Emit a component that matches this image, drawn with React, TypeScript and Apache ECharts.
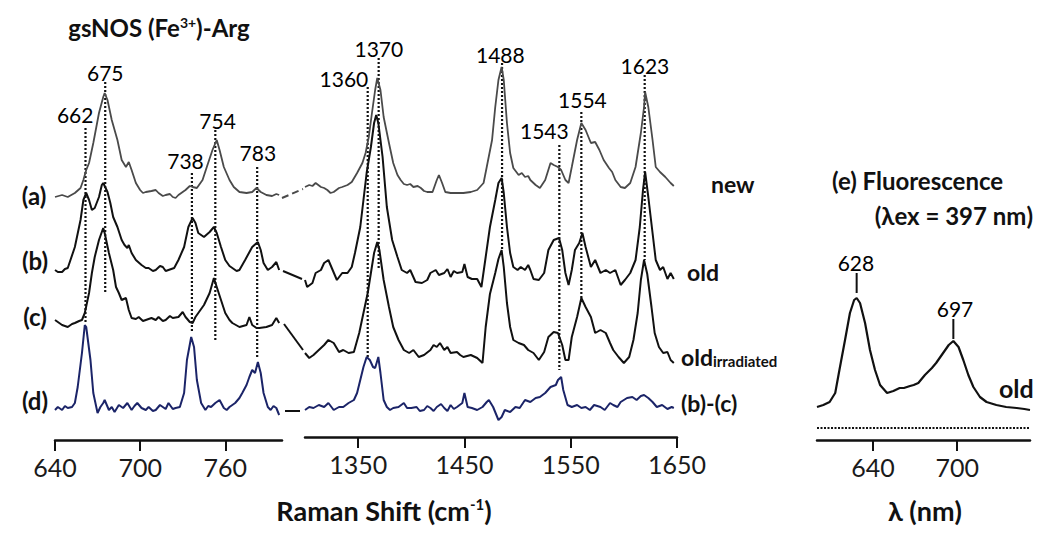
import React, { useEffect, useRef } from "react";
import * as echarts from "echarts";

// ---------- Raman, low-frequency window (cm-1 vs offset intensity) ----------
const lowNew: [number, number][] = [[640,243],[645,245],[649,243],[654,247],[658,252],[660,260],[662,270],[664,277],[667,297],[671,327],[674,343],[675,347],[677,340],[680,320],[684,300],[687,280],[690,273],[692,278],[694,270],[697,257],[700,250],[702,247],[704,248],[708,249],[711,250],[713,247],[716,244],[718,245],[721,246],[723,243],[725,242],[727,245],[732,250],[735,254],[737,253],[740,252],[744,260],[747,273],[751,290],[754,300],[756,290],[759,273],[763,260],[766,253],[770,248],[775,247],[779,248],[782,252],[785,248],[789,245],[793,244],[796,246],[798,245]];
const lowOld: [number, number][] = [[640,170],[642,168],[645,168],[647,171],[649,172],[654,193],[658,220],[660,240],[662,247],[664,240],[666,230],[668,232],[671,243],[673,255],[674,257],[677,248],[679,237],[681,223],[684,213],[687,200],[689,195],[691,192],[692,195],[694,187],[697,180],[701,175],[704,172],[706,172],[709,169],[711,170],[714,174],[716,173],[718,169],[720,170],[724,172],[727,180],[731,193],[734,213],[737,222],[739,217],[741,207],[745,203],[749,208],[752,213],[754,207],[757,193],[760,180],[763,174],[765,172],[768,169],[770,170],[774,180],[779,193],[783,198],[785,190],[787,177],[790,170],[793,173],[796,178],[798,170]];
const lowIrr: [number, number][] = [[640,120],[643,117],[645,115],[647,114],[649,113],[652,116],[654,117],[657,119],[659,120],[661,127],[664,147],[666,167],[668,183],[671,200],[674,212],[675,207],[678,187],[681,170],[683,153],[685,147],[687,140],[690,142],[692,130],[694,122],[697,121],[699,123],[702,119],[704,120],[708,122],[711,120],[713,123],[716,119],[718,120],[721,124],[723,122],[727,123],[730,128],[732,123],[735,118],[737,117],[739,123],[741,127],[745,135],[749,147],[752,162],[754,153],[757,140],[760,127],[763,120],[765,117],[770,113],[775,115],[777,123],[779,115],[782,112],[784,112],[789,113],[793,115],[796,122],[798,117]];
const lowDiff: [number, number][] = [[640,30],[642,33],[645,30],[647,34],[649,32],[652,33],[654,37],[656,53],[659,87],[661,115],[662,113],[665,80],[667,47],[670,27],[672,33],[674,37],[675,40],[678,30],[680,33],[682,28],[685,35],[688,32],[691,37],[694,30],[696,34],[698,37],[701,32],[704,30],[706,33],[709,29],[711,30],[714,35],[716,33],[718,31],[720,37],[723,31],[725,32],[728,33],[731,47],[733,80],[736,103],[738,93],[740,60],[743,37],[746,30],[748,34],[750,33],[753,37],[756,40],[759,32],[761,30],[763,33],[765,35],[767,37],[770,42],[772,47],[775,55],[777,63],[779,70],[781,67],[783,78],[785,67],[787,47],[790,33],[792,30],[794,34],[796,32],[798,25]];

// ---------- Raman, high-frequency window ----------
const highNew: [number, number][] = [[1300,250],[1304,252],[1307,251],[1310,254],[1315,250],[1318,249],[1321,247],[1324,244],[1327,245],[1332,249],[1335,250],[1340,252],[1344,255],[1349,264],[1354,274],[1357,284],[1360,300],[1363,324],[1366,347],[1368,359],[1371,347],[1374,320],[1379,294],[1383,274],[1387,262],[1390,257],[1393,253],[1396,252],[1399,253],[1402,250],[1406,251],[1409,249],[1412,246],[1415,245],[1420,245],[1424,257],[1426,262],[1429,254],[1432,245],[1437,244],[1443,244],[1449,244],[1456,245],[1462,247],[1468,254],[1471,270],[1476,297],[1479,330],[1482,357],[1485,370],[1487,357],[1490,314],[1493,284],[1496,269],[1501,262],[1504,264],[1507,260],[1510,261],[1512,257],[1517,252],[1521,249],[1526,257],[1531,274],[1534,272],[1538,270],[1541,267],[1545,257],[1548,254],[1551,270],[1556,297],[1560,314],[1564,307],[1569,294],[1573,295],[1577,287],[1581,277],[1586,269],[1589,265],[1592,257],[1597,250],[1601,249],[1606,254],[1611,270],[1616,304],[1619,330],[1620,345],[1623,330],[1627,297],[1630,270],[1634,265],[1639,260],[1644,254],[1647,251]];
const highOld: [number, number][] = [[1300,157],[1302,150],[1307,154],[1310,164],[1315,167],[1318,174],[1322,177],[1326,167],[1330,157],[1335,164],[1340,164],[1344,170],[1347,184],[1352,210],[1355,237],[1358,264],[1362,290],[1365,314],[1367,322],[1369,314],[1373,280],[1377,230],[1382,197],[1387,180],[1391,167],[1396,164],[1399,167],[1404,155],[1410,154],[1415,157],[1418,164],[1423,167],[1426,162],[1431,164],[1434,168],[1437,160],[1440,166],[1443,164],[1448,165],[1450,173],[1453,160],[1457,158],[1462,158],[1466,150],[1470,180],[1474,210],[1479,237],[1482,254],[1485,259],[1487,244],[1490,210],[1493,184],[1496,170],[1500,167],[1503,170],[1507,167],[1510,172],[1512,167],[1515,158],[1520,157],[1525,164],[1529,187],[1534,197],[1539,199],[1542,187],[1545,164],[1548,152],[1551,167],[1554,187],[1558,194],[1561,204],[1564,190],[1569,170],[1573,177],[1578,164],[1583,167],[1587,164],[1592,167],[1597,152],[1601,157],[1606,164],[1611,177],[1615,210],[1618,247],[1620,265],[1623,240],[1627,204],[1630,177],[1634,167],[1637,170],[1641,158],[1644,164],[1647,158]];
const highIrr: [number, number][] = [[1300,84],[1304,79],[1308,82],[1313,87],[1318,92],[1322,97],[1327,94],[1332,85],[1336,87],[1341,84],[1346,85],[1351,104],[1355,124],[1359,144],[1362,164],[1365,184],[1368,195],[1370,187],[1374,157],[1379,130],[1383,110],[1388,97],[1393,87],[1398,84],[1402,87],[1407,80],[1412,82],[1418,87],[1421,92],[1424,90],[1427,94],[1431,87],[1434,90],[1437,84],[1443,85],[1446,82],[1449,80],[1456,82],[1462,79],[1467,74],[1470,110],[1474,143],[1479,164],[1482,178],[1485,187],[1487,170],[1490,134],[1493,110],[1496,97],[1501,94],[1506,92],[1510,87],[1515,84],[1520,77],[1525,85],[1529,100],[1534,105],[1538,104],[1542,92],[1545,77],[1548,77],[1551,100],[1556,120],[1560,139],[1564,130],[1569,120],[1573,104],[1578,107],[1583,104],[1587,94],[1590,87],[1595,80],[1600,74],[1605,80],[1609,97],[1613,124],[1616,157],[1619,177],[1622,163],[1626,130],[1629,104],[1633,90],[1637,84],[1641,85],[1644,77],[1647,74]];
const highDiff: [number, number][] = [[1300,27],[1304,30],[1308,29],[1313,32],[1318,30],[1322,34],[1327,27],[1332,30],[1336,30],[1341,34],[1346,37],[1349,44],[1352,57],[1355,70],[1358,80],[1361,77],[1364,70],[1366,69],[1369,80],[1371,64],[1374,37],[1377,30],[1380,27],[1383,29],[1388,30],[1393,34],[1396,29],[1400,29],[1405,30],[1408,26],[1412,27],[1415,31],[1418,29],[1421,26],[1424,30],[1428,33],[1431,29],[1434,26],[1437,32],[1440,28],[1443,30],[1448,34],[1450,44],[1453,30],[1457,29],[1462,27],[1467,30],[1471,35],[1473,37],[1477,30],[1482,17],[1485,20],[1488,27],[1493,25],[1498,30],[1502,29],[1507,37],[1512,35],[1517,39],[1521,40],[1526,44],[1531,50],[1536,52],[1538,57],[1541,60],[1543,47],[1547,32],[1551,30],[1556,32],[1560,29],[1564,30],[1568,27],[1572,32],[1578,30],[1582,27],[1587,34],[1590,32],[1594,30],[1597,35],[1603,39],[1608,40],[1612,37],[1616,41],[1619,42],[1623,39],[1627,35],[1631,30],[1636,32],[1641,28],[1645,30],[1647,29]];

// ---------- Fluorescence (nm vs intensity) ----------
const fluorOld: [number, number][] = [[600,33],[604.5,35],[609,38],[613,47],[616,70],[620,100],[623.5,127],[626.5,140],[628.3,142],[630.7,137],[634.3,117],[637.8,90],[641.4,70],[645,55],[650,47],[654.5,49],[659,52],[662,52],[666.4,54],[669,55],[672.3,57],[677,65],[682,72],[685,77],[688,83],[691,89],[694,95],[697.3,99],[701,93],[704.4,80],[708,65],[711.6,53],[716.3,43],[721,38],[728,35],[735,33],[742.5,32],[748,31],[752,30]];
const fluorBlank: [number, number][] = [[600,12],[752,12]];

// ---------- peak annotations: [label, position, top, bottom] ----------
const lowPeaks: [string, number, number, number][] = [["662",661.5,312,117],["675",675.4,358,147],["738",736.5,267,107],["754",753,310,100],["783",782.5,273,83]];
const highPeaks: [string, number, number, number][] = [["1360",1359,350,80],["1370",1369.3,379,167],["1488",1485.4,374,187],["1543",1539.3,292,67],["1554",1560,325,139],["1623",1619.6,362,177]];
const fluorPeaks: [string, number, number, number][] = [["628",628.3,167,147],["697",697.3,121,101]];
// label centre points [label, x, y]
const lowLabelPos: [string, number, number][] = [["662",654.2,326],["675",675.4,368],["738",732,279.5],["754",754.6,320],["783",783,287.5]];
const highLabelPos: [string, number, number][] = [["1360",1336.6,358.5],["1370",1369.5,389],["1488",1483.8,383],["1543",1525.2,307],["1554",1561,338],["1623",1619.8,372]];
const fluorLabelPos: [string, number, number][] = [["628",627.8,178],["697",698.5,132]];

const lowTicks = [640, 700, 760];
const highTicks = [1350, 1450, 1550, 1650];
const fluorTicks = [640, 700];

const FONT = "Lato, 'Open Sans', sans-serif";
const BLACK = "#111";
const GRAY = "#4a4a4a";
const NAVY = "#1b2468";

function xAxisFor(grid: number, min: number, max: number, ticks: number[]) {
  return {
    gridIndex: grid, type: "value", min, max, position: "bottom",
    axisLine: { show: true, onZero: false, lineStyle: { color: BLACK, width: 2.5 } },
    axisTick: { show: true, customValues: ticks, length: 11, lineStyle: { color: BLACK, width: 2 } },
    axisLabel: { show: true, customValues: ticks, formatter: (v: number) => String(v), fontSize: 25, color: "#1a1a1a", margin: 14, fontFamily: FONT },
    splitLine: { show: false },
  };
}
function yAxisFor(grid: number) {
  return { gridIndex: grid, type: "value", min: 0, max: 400, show: false };
}
function trace(idx: number, data: [number, number][], color: string, width: number) {
  return {
    type: "line", xAxisIndex: idx, yAxisIndex: idx, data, showSymbol: false, symbol: "none",
    lineStyle: { color, width }, silent: true, z: 3,
  };
}
function markers(idx: number, peaks: [string, number, number, number][], dotted: boolean) {
  return peaks.map((p) => ({
    type: "line", xAxisIndex: idx, yAxisIndex: idx, symbol: "none", silent: true, z: 2,
    data: [[p[1], p[2]], [p[1], p[3]]],
    lineStyle: { color: BLACK, width: dotted ? 2.2 : 2, type: dotted ? [2, 2] : "solid" },
  }));
}
function labels(idx: number, pos: [string, number, number][]) {
  return {
    type: "scatter", xAxisIndex: idx, yAxisIndex: idx, symbolSize: 1, silent: true, z: 5,
    itemStyle: { color: "#fff", opacity: 0 },
    data: pos.map((p) => ({ value: [p[1], p[2]], name: p[0] })),
    label: {
      show: true, position: "top", distance: 0, offset: [0, 11], formatter: (q: any) => q.name,
      fontSize: 21, color: "#000", fontFamily: FONT, textBorderWidth: 0, opacity: 1,
    },
  };
}

export default function App() {
  const ref = useRef<HTMLDivElement>(null);
  useEffect(() => {
    if (!ref.current) return;
    const chart = echarts.init(ref.current, undefined, { renderer: "svg" });
    const txt = (text: string, x: number, y: number, size: number, align = "left", bold = true, rich?: any) => ({
      type: "text", x, y, silent: true,
      style: { text, fill: "#111", fontSize: size, fontWeight: bold ? "bold" : "normal", fontFamily: FONT, align, verticalAlign: "middle", rich },
    });
    const conn = (x1: number, y1: number, x2: number, y2: number, color: string, dash?: number[]) => ({
      type: "line", silent: true, shape: { x1, y1, x2, y2 },
      style: { stroke: color, lineWidth: 2, lineDash: dash },
    });
    const bold = (size: number, extra: any = {}) => ({ fontSize: size, fontWeight: "bold", fontFamily: FONT, fill: "#111", ...extra });
    chart.setOption({
      animation: false,
      backgroundColor: "#fff",
      grid: [
        { left: 55, top: 40, width: 227, height: 400 },
        { left: 305, top: 37, width: 372, height: 400 },
        { left: 817, top: 40, width: 213, height: 400 },
      ],
      xAxis: [xAxisFor(0, 640, 800, lowTicks), xAxisFor(1, 1300, 1650, highTicks), xAxisFor(2, 600, 752, fluorTicks)],
      yAxis: [yAxisFor(0), yAxisFor(1), yAxisFor(2)],
      series: [
        trace(0, lowNew, GRAY, 1.8), trace(0, lowOld, BLACK, 2), trace(0, lowIrr, BLACK, 2), trace(0, lowDiff, NAVY, 2),
        trace(1, highNew, GRAY, 1.8), trace(1, highOld, BLACK, 2), trace(1, highIrr, BLACK, 2), trace(1, highDiff, NAVY, 2),
        trace(2, fluorOld, BLACK, 2.2),
        { ...trace(2, fluorBlank, BLACK, 2), lineStyle: { color: BLACK, width: 2, type: [2, 1.5] } },
        ...markers(0, lowPeaks, true), ...markers(1, highPeaks, true), ...markers(2, fluorPeaks, false),
        labels(0, lowLabelPos), labels(1, highLabelPos), labels(2, fluorLabelPos),
      ],
      graphic: [
        txt("{b|gsNOS (Fe}{s|3+}{b|)-Arg}", 159, 27, 24, "center", true, { b: bold(24), s: bold(14, { verticalAlign: "top" }) }),
        txt("(a)", 34, 195, 24, "center"),
        txt("(b)", 35, 260, 24, "center"),
        txt("(c)", 35, 316, 24, "center"),
        txt("(d)", 35, 400, 24, "center"),
        txt("new", 711, 184, 23),
        txt("old", 687, 272, 23),
        txt("{b|old}{s|irradiated}", 681, 357, 23, "left", true, { b: bold(23), s: bold(15, { verticalAlign: "bottom" }) }),
        txt("(b)-(c)", 681, 403, 23),
        txt("(e) Fluorescence", 832, 180, 24),
        txt("(λex = 397 nm)", 1033, 215, 24, "right"),
        txt("old", 999, 388, 25),
        txt("{b|Raman Shift (cm}{s|-1}{b|)}", 384, 510, 27, "center", true, { b: bold(27), s: bold(15, { verticalAlign: "top" }) }),
        txt("λ (nm)", 925, 510, 27, "center"),
        conn(282, 198, 303, 189, GRAY, [7, 4]),
        conn(283, 271, 302, 279, BLACK),
        conn(284, 324, 303, 350, BLACK),
        conn(285, 411, 300, 411, BLACK),
      ],
    });
    return () => chart.dispose();
  }, []);
  return <div ref={ref} style={{ position: "absolute", left: 0, top: 0, width: 1050, height: 537 }} />;
}
